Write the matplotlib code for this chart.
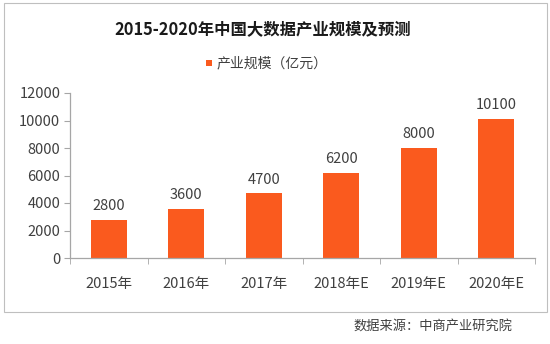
import matplotlib
matplotlib.use("Agg")
import matplotlib.pyplot as plt
from matplotlib.patches import Rectangle

plt.rcParams['font.family'] = ['Noto Sans CJK SC', 'DejaVu Sans']

years = ["2015年", "2016年", "2017年", "2018年E", "2019年E", "2020年E"]
scale = [2800, 3600, 4700, 6200, 8000, 10100]
series_name = "产业规模（亿元）"
title = "2015-2020年中国大数据产业规模及预测"
source = "数据来源：中商产业研究院"

bar_color = "#FA5A1E"
axis_color = "#A6A6A6"
text_color = "#404040"

fig = plt.figure(figsize=(5.5, 3.44), dpi=100)
fig.patch.set_facecolor("white")

# outer frame around the chart area
fig.patches.append(Rectangle((4 / 550, 1 - 312 / 344), 543 / 550, 309 / 344,
                             transform=fig.transFigure, fill=False,
                             edgecolor="#BFBFBF", linewidth=0.8))

ax = fig.add_axes([70 / 550, 1 - 258 / 344, 465 / 550, 165 / 344])
x = range(len(years))
bars = ax.bar(x, scale, width=0.47, color=bar_color, zorder=2)
for xi, v in zip(x, scale):
    ax.text(xi, v + 500, f"{v}", ha="center", va="bottom",
            fontsize=10.5, color=text_color)

ax.set_xlim(-0.5, len(years) - 0.5)
ax.set_ylim(0, 12000)
ax.set_yticks(range(0, 12001, 2000))
ax.set_xticks(x)
ax.set_xticklabels(years)
ax.set_xticks([i - 0.5 for i in range(len(years) + 1)], minor=True)

for s in ("top", "right"):
    ax.spines[s].set_visible(False)
for s in ("left", "bottom"):
    ax.spines[s].set_color(axis_color)
    ax.spines[s].set_linewidth(0.9)

ax.tick_params(axis="x", which="major", length=0, pad=14,
               labelsize=10.5, labelcolor=text_color)
ax.tick_params(axis="x", which="minor", length=4, color=axis_color, direction="out")
ax.tick_params(axis="y", length=4, color=axis_color, direction="out",
               labelsize=10.5, labelcolor=text_color, pad=3)

fig.text(263 / 550, 1 - 30 / 344, title, ha="center", va="center",
         fontsize=11.8, fontweight="bold", color="#1A1A1A")

# legend entry
fig.patches.append(Rectangle((206 / 550, 1 - 66 / 344), 6 / 550, 6 / 344,
                             transform=fig.transFigure, facecolor=bar_color,
                             edgecolor="none"))
fig.text(217 / 550, 1 - 63 / 344, series_name, ha="left", va="center",
         fontsize=10, color=text_color)

fig.text(353 / 550, 1 - 327 / 344, source, ha="left", va="center",
         fontsize=9.5, color=text_color)

fig.savefig("out.png", dpi=100, facecolor="white")
